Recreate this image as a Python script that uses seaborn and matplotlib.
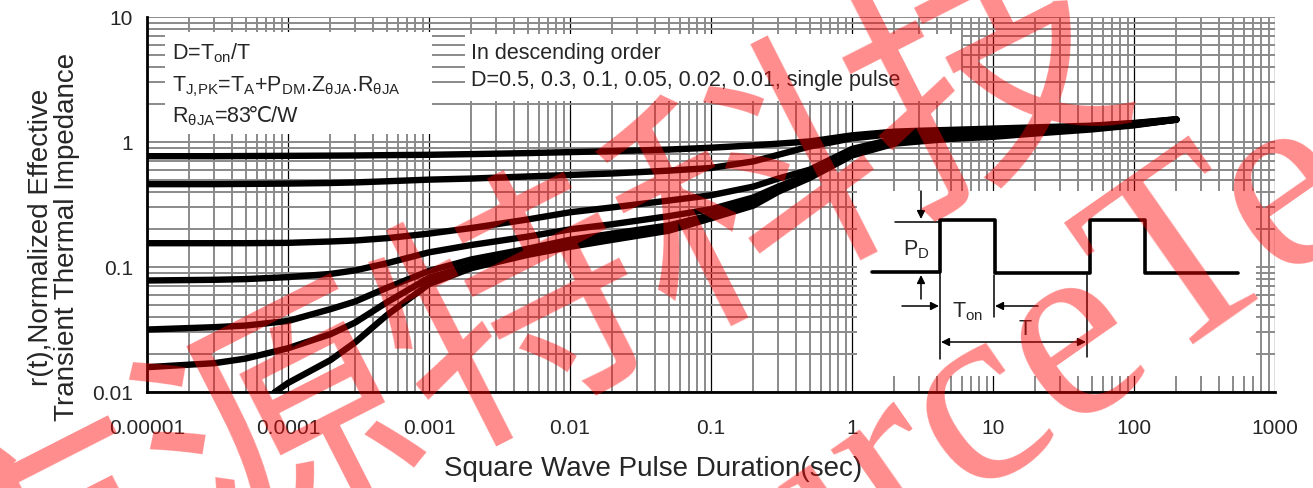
import numpy as np
import pandas as pd
import matplotlib
matplotlib.use('Agg')
import matplotlib.pyplot as plt
from matplotlib.ticker import LogLocator, NullFormatter, FixedLocator, FixedFormatter
from matplotlib.patches import Rectangle
from matplotlib.lines import Line2D
import seaborn as sns

# pulse duration (s) and r(t)
t_pts = [1e-5, 3e-5, 5e-5, 1e-4, 2e-4, 3e-4, 5e-4, 1e-3, 2e-3, 5e-3, 1e-2, 2e-2, 5e-2,
         0.1, 0.2, 0.3, 0.5, 1, 2, 3, 5, 10, 20, 50, 100, 200]
r_d05 = [0.77, 0.77, 0.772, 0.775, 0.778, 0.78, 0.785, 0.79, 0.80, 0.815, 0.83, 0.845, 0.87,
         0.90, 0.94, 0.97, 1.01, 1.13, 1.21, 1.23, 1.25, 1.28, 1.31, 1.35, 1.42, 1.52]
r_d03 = [0.46, 0.46, 0.462, 0.465, 0.47, 0.475, 0.485, 0.50, 0.51, 0.53, 0.545, 0.56, 0.59,
         0.62, 0.70, 0.79, 0.92, 1.07, 1.16, 1.19, 1.22, 1.25, 1.28, 1.34, 1.41, 1.52]
r_d01 = [0.155, 0.155, 0.155, 0.156, 0.16, 0.163, 0.17, 0.185, 0.205, 0.24, 0.274, 0.30, 0.34,
         0.375, 0.44, 0.51, 0.60, 0.88, 1.06, 1.12, 1.16, 1.20, 1.25, 1.32, 1.40, 1.51]
r_d005 = [0.078, 0.079, 0.08, 0.083, 0.088, 0.094, 0.107, 0.131, 0.15, 0.175, 0.20, 0.22, 0.255,
          0.29, 0.36, 0.44, 0.55, 0.84, 1.02, 1.08, 1.12, 1.16, 1.22, 1.30, 1.39, 1.51]
r_d002 = [0.0316, 0.033, 0.034, 0.037, 0.046, 0.053, 0.068, 0.093, 0.115, 0.14, 0.165, 0.185, 0.215,
          0.26, 0.33, 0.42, 0.535, 0.81, 0.99, 1.05, 1.08, 1.13, 1.20, 1.28, 1.38, 1.51]
r_d001 = [0.0158, 0.017, 0.0185, 0.0224, 0.029, 0.036, 0.052, 0.082, 0.103, 0.13, 0.152, 0.172, 0.205,
          0.25, 0.32, 0.41, 0.525, 0.80, 0.98, 1.03, 1.07, 1.12, 1.19, 1.28, 1.37, 1.51]
t_single = [8e-5, 1e-4, 2e-4, 3e-4, 5e-4, 1e-3, 2e-3, 5e-3, 1e-2, 2e-2, 5e-2,
            0.1, 0.2, 0.3, 0.5, 1, 2, 3, 5, 10, 20, 50, 100, 200]
r_single = [0.0099, 0.0118, 0.018, 0.025, 0.041, 0.073, 0.098, 0.125, 0.145, 0.165, 0.195,
            0.245, 0.31, 0.40, 0.515, 0.78, 0.97, 1.01, 1.06, 1.10, 1.17, 1.26, 1.36, 1.51]

x_ticks = [1e-5, 1e-4, 1e-3, 1e-2, 1e-1, 1, 10, 100, 1000]
x_labels = ['0.00001', '0.0001', '0.001', '0.01', '0.1', '1', '10', '100', '1000']
y_ticks = [0.01, 0.1, 1, 10]
y_labels = ['0.01', '0.1', '1', '10']

series = {'D0.5': r_d05, 'D0.3': r_d03, 'D0.1': r_d01, 'D0.05': r_d005,
          'D0.02': r_d002, 'D0.01': r_d001}
frames = [pd.DataFrame({'t': t_pts, 'r': v, 'D': k}) for k, v in series.items()]
frames.append(pd.DataFrame({'t': t_single, 'r': r_single, 'D': 'single'}))
df = pd.concat(frames, ignore_index=True)

sns.set_theme(style='white')
plt.rcParams['font.family'] = ['Liberation Sans', 'DejaVu Sans']
plt.rcParams['mathtext.fontset'] = 'custom'
plt.rcParams['mathtext.rm'] = 'Liberation Sans'
plt.rcParams['mathtext.it'] = 'Liberation Sans:italic'

W, H = 1313, 489
fig = plt.figure(figsize=(W / 100, H / 100), dpi=100)
ax = fig.add_axes([147 / W, 1 - 393 / H, 1128 / W, 375 / H])
ax.set_xscale('log')
ax.set_yscale('log')
ax.set_xlim(1e-5, 1000)
ax.set_ylim(0.01, 10)
ax.set_axisbelow(True)

ax.xaxis.set_major_locator(FixedLocator(x_ticks))
ax.xaxis.set_major_formatter(FixedFormatter(x_labels))
ax.yaxis.set_major_locator(FixedLocator(y_ticks))
ax.yaxis.set_major_formatter(FixedFormatter(y_labels))
ax.xaxis.set_minor_locator(LogLocator(base=10, subs=np.arange(2, 10), numticks=20))
ax.yaxis.set_minor_locator(LogLocator(base=10, subs=np.arange(2, 10), numticks=20))
ax.xaxis.set_minor_formatter(NullFormatter())
ax.yaxis.set_minor_formatter(NullFormatter())
ax.tick_params(which='both', length=0)
ax.tick_params(axis='x', labelsize=15, pad=19)
ax.tick_params(axis='y', labelsize=15, pad=10)

ax.grid(which='minor', color='#8a8a8a', lw=1.4)
ax.xaxis.grid(which='major', color='black', lw=0.9)
ax.yaxis.grid(which='major', color='#8a8a8a', lw=1.4)
for s in ['top', 'right']:
    ax.spines[s].set_visible(False)
for s in ['left', 'bottom']:
    ax.spines[s].set_color('black')
    ax.spines[s].set_linewidth(2)

# white panels hiding the grid behind the notes and the inset
for x0, y0, w, h in [(0.016, 0.688, 0.237, 0.272), (0.282, 0.776, 0.440, 0.179),
                     (0.629, 0.043, 0.354, 0.493)]:
    ax.add_patch(Rectangle((x0, y0), w, h, transform=ax.transAxes,
                           facecolor='white', edgecolor='none', zorder=1))

sns.lineplot(data=df, x='t', y='r', hue='D', palette=['black'] * 7,
             legend=False, linewidth=4.6, ax=ax, zorder=2, estimator=None)

ax.set_xlabel('Square Wave Pulse Duration(sec)', fontsize=20)
ax.xaxis.set_label_coords(0.449, -0.168)
ax.set_ylabel('r(t),Normalized Effective\nTransient Thermal Impedance',
              fontsize=20, linespacing=1.0)
ax.yaxis.set_label_coords(-0.059, 0.416)


def fp(x, y):
    return x / W, 1 - y / H


fs = 15.5
fig.text(*fp(172, 53), r'D=T$_{\mathrm{on}}$/T', fontsize=fs, va='center')
fig.text(*fp(172, 87),
         r'T$_{\mathrm{J{,}PK}}$=T$_{\mathrm{A}}$+P$_{\mathrm{DM}}$.Z$_{\mathrm{θJA}}$.R$_{\mathrm{θJA}}$',
         fontsize=fs, va='center')
r_txt = fig.text(*fp(172, 122), r'R$_{\mathrm{θJA}}$=83', fontsize=fs, va='baseline')
ax.annotate('℃/W', xy=(1, fp(0, 122)[1]), xycoords=(r_txt, 'figure fraction'),
            xytext=(-2.5, 0), textcoords='offset points',
            fontsize=fs, va='baseline', ha='left')
fig.text(*fp(471, 53), 'In descending order', fontsize=fs, va='center')
fig.text(*fp(471, 81), 'D=0.5, 0.3, 0.1, 0.05, 0.02, 0.01, single pulse',
         fontsize=fs, va='center')

# inset pulse train sketch
wave_x = [872, 940, 940, 995, 995, 1090, 1090, 1145, 1145, 1238]
wave_y = [273, 273, 221, 221, 274, 274, 221, 221, 274, 274]
fig.add_artist(Line2D([x / W for x in wave_x], [1 - y / H for y in wave_y],
                      color='black', lw=2.6, zorder=4))
for xs, ys in [([895, 940], [223, 223]), ([940, 940], [274, 360]),
               ([994, 994], [276, 318]), ([1087, 1087], [276, 358])]:
    fig.add_artist(Line2D([x / W for x in xs], [1 - y / H for y in ys],
                          color='black', lw=1.1, zorder=4))
arrows = [((921, 220), (921, 192), '-|>'), ((921, 276), (921, 300), '-|>'),
          ((939, 307), (902, 307), '-|>'), ((995, 307), (1038, 307), '-|>'),
          ((941, 343), (1086, 343), '<|-|>')]
for tip, tail, style in arrows:
    ax.annotate('', xy=fp(*tip), xytext=fp(*tail), xycoords='figure fraction',
                textcoords='figure fraction', zorder=4,
                arrowprops=dict(arrowstyle=style, color='black', lw=1.1,
                                shrinkA=0, shrinkB=0, mutation_scale=12))
fig.text(*fp(903, 250), r'P$_{\mathrm{D}}$', fontsize=fs, va='center')
fig.text(*fp(952, 312), r'T$_{\mathrm{on}}$', fontsize=fs, va='center')
fig.text(*fp(1025, 330), 'T', fontsize=fs, va='center', ha='center')

# watermark
fig.text(*fp(520, 320), '市源特科技', fontsize=190, rotation=27, color='red',
         alpha=0.45, ha='center', va='center', family=['Noto Sans CJK SC'], zorder=10)
fig.text(*fp(1030, 370), 'SourceTech', fontsize=190, rotation=35, color='red',
         alpha=0.45, ha='center', va='center', family=['Liberation Serif'], zorder=10)

fig.savefig('out.png', dpi=100)
